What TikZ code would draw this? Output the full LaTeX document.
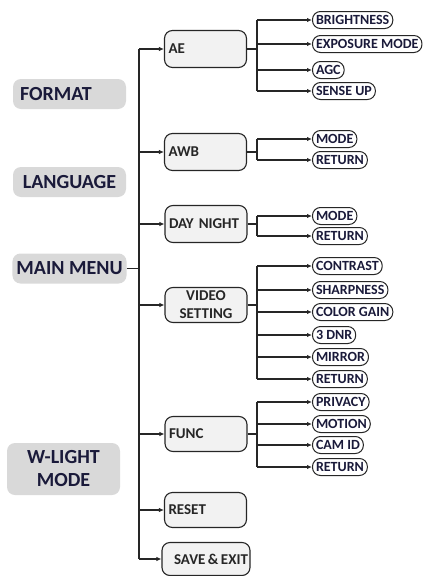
\documentclass[tikz,border=0pt]{standalone}
\usepackage{fontspec}
\setmainfont{Carlito}
\usetikzlibrary{arrows.meta}
\definecolor{lblgray}{HTML}{D9D9D9}
\definecolor{subgray}{HTML}{F2F2F2}
\definecolor{inkline}{HTML}{262626}
\definecolor{navy}{HTML}{1A1A3A}

\begin{document}
\begin{tikzpicture}[x=1pt, y=-1pt, >={Latex[length=5pt,width=4.5pt]},
	conn/.style={draw=inkline, line width=1.1pt},
	lbl/.style={fill=lblgray, rounded corners=8pt, minimum width=113pt, minimum height=30pt, inner xsep=4pt, align=center, text=navy, font=\fontsize{20}{23}\selectfont\bfseries},
	sub/.style={draw=inkline, line width=1.1pt, fill=subgray, rounded corners=8pt, text width=74pt, inner xsep=4pt, minimum height=37pt, align=left, text=black!85, font=\fontsize{15}{18}\selectfont\bfseries},
	leaf/.style={draw=inkline, line width=1pt, fill=white, rounded corners=8pt, minimum height=17pt, inner xsep=3.5pt, inner ysep=1pt, anchor=west, text=navy, font=\fontsize{14}{16}\selectfont\bfseries}]
	\useasboundingbox (0,0) rectangle (424,576);
	% left column
	\node[lbl, text width=99pt, inner xsep=7pt, align=left] (format) at (69.5,94) {FORMAT};
	\node[lbl] (language) at (69.5,182) {LANGUAGE};
	\node[lbl] (mainmenu) at (69.5,268.5) {MAIN MENU};
	\node[lbl, minimum height=52pt] (wlight) at (63.5,469) {W-LIGHT\\MODE};
	% sub menus
	\node[sub] (ae) at (205.5,49) {AE};
	\node[sub] (awb) at (205.5,152) {AWB};
	\node[sub] (daynight) at (206,224) {DAY NIGHT};
	\node[sub, align=center, minimum height=35pt] (video) at (206,305) {VIDEO\\SETTING};
	\node[sub, minimum height=35pt] (func) at (206,434) {FUNC};
	\node[sub, minimum height=35pt] (reset) at (205.5,510) {RESET};
	\node[sub, text width=84pt, inner xsep=2pt, align=right, minimum height=33pt] (save) at (206,559) {SAVE\,\&\,EXIT};
	% items
	\foreach \n/\y/\t in {ae1/20/BRIGHTNESS, ae2/44/EXPOSURE MODE, ae3/70/AGC, ae4/91/SENSE UP,
		awb1/139/MODE, awb2/160/RETURN, dn1/216/MODE, dn2/236/RETURN,
		vs1/266/CONTRAST, vs2/290/SHARPNESS, vs3/312/COLOR GAIN, vs4/335/3 DNR, vs5/357/MIRROR, vs6/379/RETURN,
		fn1/402/PRIVACY, fn2/424/MOTION, fn3/445/CAM ID, fn4/467/RETURN}
		{\node[leaf] (\n) at (312,\y) {\t};}
	% connectors
	\coordinate (trunk) at (139,0);
	\coordinate (bar) at (257,0);
	\draw[conn] (mainmenu.east) -- (mainmenu.east -| trunk);
	\draw[conn] (ae.west -| trunk) -- (save.west -| trunk);
	\foreach \s in {ae, awb, daynight, video, func, reset, save} {\draw[conn, ->] (\s.west -| trunk) -- (\s.west);}
	\foreach \s/\a/\b in {ae/ae1/ae4, awb/awb1/awb2, daynight/dn1/dn2, video/vs1/vs6, func/fn1/fn4} {
		\draw[conn] (\s.east) -- (\s.east -| bar);
		\draw[conn] (\a.west -| bar) -- (\b.west -| bar);}
	\foreach \l in {ae1, ae2, ae3, ae4, awb1, awb2, dn1, dn2, vs1, vs2, vs3, vs4, vs5, vs6, fn1, fn2, fn3, fn4} {\draw[conn, ->] (\l.west -| bar) -- (\l.west);}
\end{tikzpicture}
\end{document}
